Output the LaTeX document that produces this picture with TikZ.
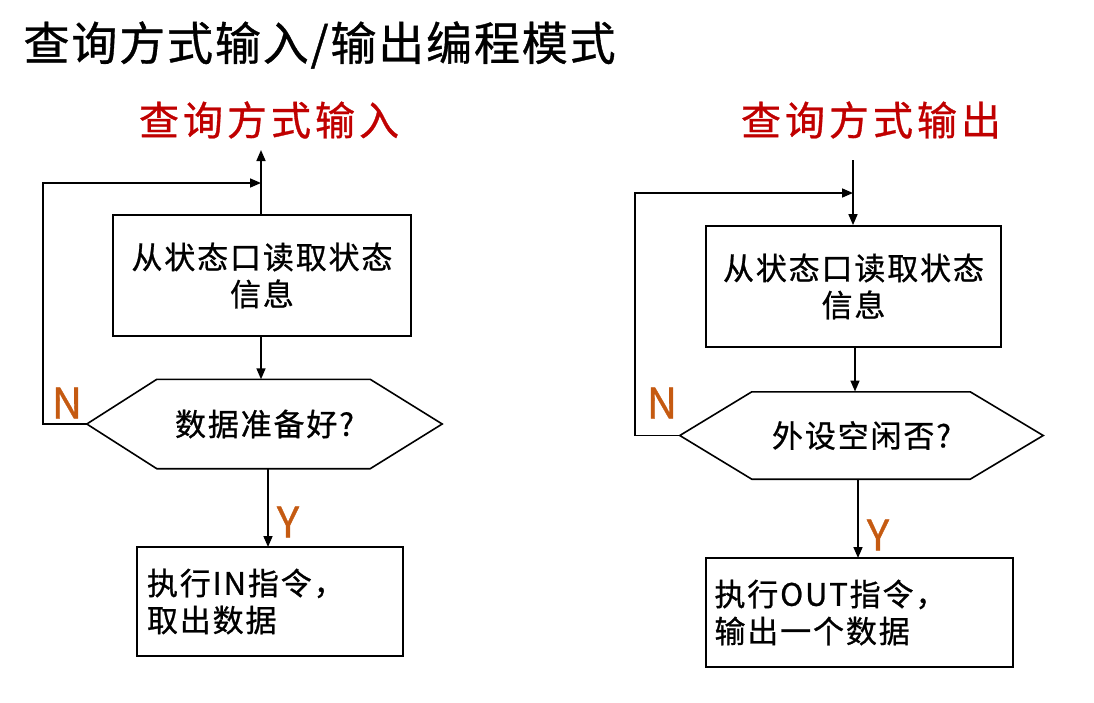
\documentclass[tikz,border=0pt]{standalone}
\usepackage{fontspec}
\setmainfont{Noto Sans CJK SC}[FakeBold=0.8]
\usetikzlibrary{arrows.meta}
\definecolor{titlered}{RGB}{192,0,0}
\definecolor{ynorange}{RGB}{197,90,17}
\tikzset{
  box/.style={draw, line width=1.8pt, inner sep=0pt, font=\fontsize{31}{37}\selectfont\addfontfeature{LetterSpace=6}},
  dec/.style={inner sep=0pt, font=\fontsize{31}{37}\selectfont\addfontfeature{LetterSpace=6}},
  arr/.style={line width=1.6pt, -{Triangle[length=11pt,width=9pt]}},
  hexline/.style={line width=1.6pt},
  sub/.style={text=titlered, font=\fontsize{40}{44}\selectfont\addfontfeature{LetterSpace=10}},
  yn/.style={text=ynorange, font=\fontsize{42}{44}\selectfont},
}
\begin{document}
\begin{tikzpicture}[x=1pt,y=-1pt]
\useasboundingbox[fill=white] (0,0) rectangle (1094,702);

\node[anchor=west, font=\fontsize{46}{50}\selectfont\addfontfeature{LetterSpace=4}] (title) at (20,45) {查询方式输入/输出编程模式};

% ---------- left ----------
\node[sub] (subL) at (269,120) {查询方式输入};
\node[box, minimum width=298pt, minimum height=121pt, align=center] (b1) at (262,275.5) {从状态口读取状态\\信息};
\node[dec, minimum width=355pt, minimum height=89pt] (d1) at (264.5,424) {数据准备好?};
\draw[hexline] (d1.west) -- ([xshift=70pt]d1.north west) -- ([xshift=-72pt]d1.north east) -- (d1.east) -- ([xshift=-72pt]d1.south east) -- ([xshift=70pt]d1.south west) -- cycle;
\node[box, minimum width=266pt, minimum height=109pt, align=left, text width=246pt] (b2) at (270,601.5) {执行IN指令，\\取出数据};
\coordinate (topL) at (261,150);
\coordinate (loopL) at (261,183);
\draw[arr] (b1.north -| topL) -- (topL);
\draw[arr] (b1.south -| topL) -- (topL |- d1.north);
\draw[arr] (d1.west) -| (43,183) -- (loopL);
\draw[arr] (268,468.5) -- (268,547);
\node[yn] (nL) at (67,403) {N};
\node[yn] (yL) at (288,522) {Y};

% ---------- right ----------
\node[sub] (subR) at (871,120) {查询方式输出};
\node[box, minimum width=295pt, minimum height=121pt, align=center] (b3) at (853.5,286.5) {从状态口读取状态\\信息};
\node[dec, minimum width=363pt, minimum height=87pt] (d2) at (861.5,435.5) {外设空闲否?};
\draw[hexline] (d2.west) -- ([xshift=72pt]d2.north west) -- ([xshift=-73pt]d2.north east) -- (d2.east) -- ([xshift=-73pt]d2.south east) -- ([xshift=72pt]d2.south west) -- cycle;
\node[box, minimum width=307pt, minimum height=109pt, align=left, text width=290pt] (b4) at (859.5,612.5) {执行OUT指令，\\输出一个数据};
\coordinate (topR) at (853,160);
\coordinate (loopR) at (853,193);
\draw[arr] (topR) -- (topR |- b3.north);
\draw[arr] (855,347) -- (855,391.5);
\draw[arr] (d2.west) -| (635,193) -- (loopR);
\draw[arr] (858,479) -- (858,558);
\node[yn] (nR) at (662,403) {N};
\node[yn] (yR) at (878,535) {Y};
\end{tikzpicture}
\end{document}
